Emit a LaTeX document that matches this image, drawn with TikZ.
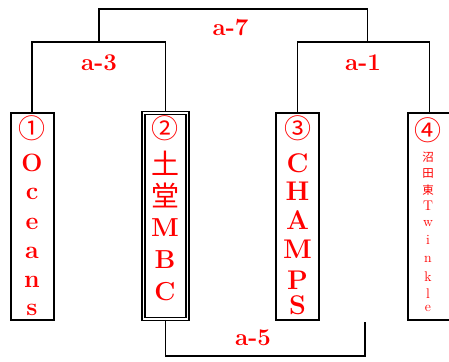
\documentclass[tikz,border=0pt]{standalone}
\usepackage{fontspec}
\newfontfamily\cjk{Noto Sans CJK JP}
\usetikzlibrary{positioning}
\usetikzlibrary{calc}
\tikzset{
	x=1pt, y=-1pt,
	team/.style={draw, line width=1.6pt, minimum width=43pt, minimum height=207pt, inner sep=0pt},
	twin/.style={draw, line width=1.5pt, double, double distance=1.5pt, minimum width=44pt, minimum height=206pt, inner sep=0pt},
	bracket/.style={line width=1.5pt},
	res/.style={text=red, font=\bfseries\fontsize{24}{24}\selectfont},
	chr/.style={text=red, anchor=base, inner sep=0pt},
	seed/.style={chr, font=\cjk\fontsize{27}{27}\selectfont}
}

\begin{document}
\begin{tikzpicture}
			\useasboundingbox (0,0) rectangle (449,361);
			
			% Teams
			\node (oceans) [team] at (32.2,216.5) {};
			\node (mbc) [twin] at (165.4,216.2) {};
			\node (champs) [team] at (297.5,216.5) {};
			\node (twinkle) [team] at (429.5,216.5) {};
			
			% Names
			\node (s1) [seed] at (32,138) {①};
			\foreach \c/\y in {O/171, c/199, e/229, a/258, n/287, s/315}
				\node (oceans-\y) [chr, font=\bfseries\fontsize{25}{25}\selectfont] at (32,\y) {\c};
			\node (s2) [seed] at (165,138) {②};
			\foreach \c/\y in {土/174, 堂/206}
				\node (mbc-\y) [chr, font=\cjk\fontsize{28}{28}\selectfont] at (165,\y) {\c};
			\foreach \c/\y in {M/236, B/268, C/300}
				\node (mbc-\y) [chr, font=\bfseries\fontsize{26}{26}\selectfont] at (165,\y) {\c};
			\node (s3) [seed] at (297.5,138) {③};
			\foreach \c/\y in {C/172, H/200, A/229, M/258, P/289, S/314}
				\node (champs-\y) [chr, font=\bfseries\fontsize{27}{27}\selectfont] at (297.5,\y) {\c};
			\node (s4) [seed] at (428,140) {④};
			\foreach \c/\y in {沼/161, 田/177.5, 東/194.5}
				\node (twinkle-\y) [chr, font=\cjk\fontsize{11.5}{11.5}\selectfont] at (428,\y) {\c};
			\foreach \c/\y in {T/210.7, w/226, i/244, n/262, k/281.7, l/298, e/311}
				\node (twinkle-\y) [chr, font=\fontsize{14}{14}\selectfont] at (428,\y) {\c};
			
			% Rounds
			\coordinate (free5) at (365,322);
			\draw[bracket] (oceans.north) -- ++(0,-70) -| coordinate[pos=.25] (m3) (mbc.north);
			\draw[bracket] (champs.north) -- ++(0,-70) -| coordinate[pos=.25] (m1) (twinkle.north);
			\draw[bracket] (m3) -- ++(0,-33) -| ([xshift=4pt]m1);
			\draw[bracket] (mbc.south) -- ++(0,36) -| (free5);
			
			% Results
			\node (a7) [res] at (230.5,27.5) {a-7};
			\node (a3) [res] at (99,63) {a-3};
			\node (a1) [res] at (363,63) {a-1};
			\node (a5) [res] at (253,338) {a-5};
		\end{tikzpicture}
\end{document}
